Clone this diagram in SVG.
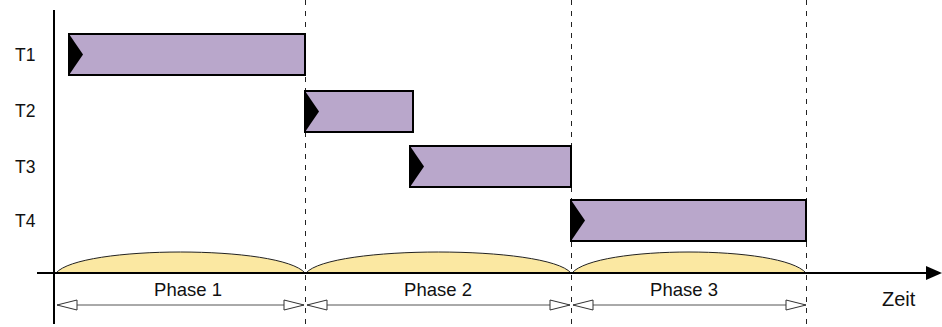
<svg xmlns="http://www.w3.org/2000/svg" width="942" height="327" viewBox="0 0 942 327">
  <style>
    .lbl { font-family: "Liberation Sans", Arial, sans-serif; font-size: 17.5px; fill: #111; }
    .ph { font-size: 18.5px; }
    .zeit { font-size: 20px; }
    .bar { fill: #b9a7cb; stroke: #000; stroke-width: 2; }
    .notch { fill: #000; }
    .phase { fill: #fbe8a2; stroke: #222; stroke-width: 1; }
    .guide { stroke: #222; stroke-width: 1; stroke-dasharray: 5 6; fill: none; }
    .axis { stroke: #000; stroke-width: 2; fill: none; }
    .dim { stroke: #555; stroke-width: 1; fill: none; marker-start: url(#open); marker-end: url(#open); }
  </style>
  <defs>
    <marker id="open" viewBox="0 0 22 12" refX="21" refY="6" markerWidth="22" markerHeight="12" markerUnits="userSpaceOnUse" orient="auto-start-reverse">
      <path d="M1,1 L21,6 L1,11 Z" fill="#fff" stroke="#333" stroke-width="1"/>
    </marker>
  </defs>

  <rect width="942" height="327" fill="#fff"/>

  <!-- phase boundaries -->
  <g id="guides">
    <line class="guide" x1="305.5" y1="0" x2="305.5" y2="327"/>
    <line class="guide" x1="571.5" y1="0" x2="571.5" y2="327"/>
    <line class="guide" x1="806.5" y1="0" x2="806.5" y2="327"/>
  </g>

  <!-- phase humps on the time axis -->
  <g id="phase-humps">
    <path class="phase" d="M56,273 C80,245 281,245 305,273 Z"/>
    <path class="phase" d="M306,273 C330,245 547,245 571,273 Z"/>
    <path class="phase" d="M572,273 C596,245 782,245 806,273 Z"/>
  </g>

  <!-- axes -->
  <g id="axes">
    <line class="axis" x1="54" y1="10" x2="54" y2="324"/>
    <line class="axis" x1="37" y1="273" x2="928" y2="273"/>
    <path d="M926,266 L942,273 L926,280 Z" fill="#000"/>
    <text class="lbl zeit" x="882" y="306">Zeit</text>
  </g>

  <!-- tasks -->
  <g id="T1">
    <text class="lbl" x="15" y="60.5">T1</text>
    <rect class="bar" x="69" y="34" width="236" height="41"/>
    <path class="notch" d="M69,34 L83,54.5 L69,75 Z"/>
  </g>
  <g id="T2">
    <text class="lbl" x="15" y="117">T2</text>
    <rect class="bar" x="305" y="91" width="108" height="41"/>
    <path class="notch" d="M305,91 L319,111.5 L305,132 Z"/>
  </g>
  <g id="T3">
    <text class="lbl" x="15" y="173">T3</text>
    <rect class="bar" x="410" y="146" width="161" height="41"/>
    <path class="notch" d="M410,146 L424,166.5 L410,187 Z"/>
  </g>
  <g id="T4">
    <text class="lbl" x="15" y="227">T4</text>
    <rect class="bar" x="571" y="200" width="235" height="41"/>
    <path class="notch" d="M571,200 L585,220.5 L571,241 Z"/>
  </g>

  <!-- phase spans -->
  <g id="connectors">
    <line class="dim" x1="57" y1="305" x2="304" y2="305"/>
    <line class="dim" x1="307" y1="305" x2="570" y2="305"/>
    <line class="dim" x1="573" y1="305" x2="806" y2="305"/>
  </g>
  <g id="phase-labels">
    <text class="lbl ph" x="188" y="296" text-anchor="middle">Phase 1</text>
    <text class="lbl ph" x="438" y="296" text-anchor="middle">Phase 2</text>
    <text class="lbl ph" x="684" y="296" text-anchor="middle">Phase 3</text>
  </g>
</svg>
